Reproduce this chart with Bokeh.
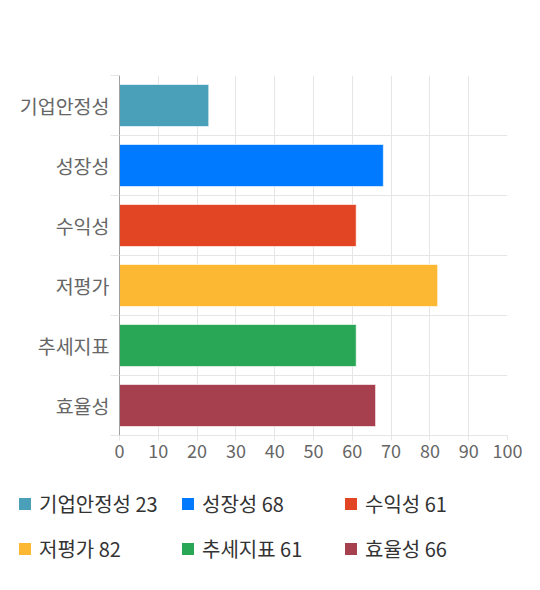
from bokeh.plotting import figure
from bokeh.models import FixedTicker, Range1d, Legend, LegendItem
from bokeh.layouts import column, row
from bokeh.embed import file_html
from bokeh.resources import INLINE

categories = ["기업안정성", "성장성", "수익성", "저평가", "추세지표", "효율성"]
values = [23, 68, 61, 82, 61, 66]
colors = ["#4aa0b8", "#007bff", "#e14523", "#fdb833", "#29a756", "#a7404e"]
x_ticks = [0, 10, 20, 30, 40, 50, 60, 70, 80, 90, 100]

FONT = "Noto Sans CJK KR"
W = 530

n = len(categories)
centers = [i + 0.5 for i in range(n)]

p = figure(width=W, height=470, output_backend="svg", toolbar_location=None,
           x_range=Range1d(0, 100), y_range=Range1d(n, 0),
           min_border_left=119, min_border_top=75, min_border_right=23,
           min_border_bottom=35)
p.outline_line_color = None

for i in range(n):
    p.hbar(y=[centers[i]], left=0, right=[values[i]], height=0.7,
           fill_color=colors[i], line_color="white", line_alpha=0.6, line_width=1)

# y axis (categories)
yax = p.yaxis[0]
yax.ticker = FixedTicker(ticks=centers, minor_ticks=list(range(n + 1)))
yax.major_label_overrides = {c: cat for c, cat in zip(centers, categories)}
yax.major_tick_line_color = None
yax.major_tick_out = 9
yax.major_tick_in = 0
yax.minor_tick_out = 9
yax.minor_tick_in = 0
yax.minor_tick_line_color = "#e6e6e6"
yax.axis_line_color = "#a0a0a0"
yax.major_label_standoff = 1
yax.major_label_text_font = FONT
yax.major_label_text_font_size = "19.5px"
yax.major_label_text_color = "#666666"

p.ygrid.grid_line_color = None
p.ygrid.minor_grid_line_color = "#e6e6e6"

# x axis (values)
xax = p.xaxis[0]
xax.ticker = FixedTicker(ticks=x_ticks)
xax.axis_line_color = "#e6e6e6"
xax.major_tick_line_color = "#e6e6e6"
xax.major_tick_out = 5
xax.major_tick_in = 0
xax.minor_tick_line_color = None
xax.major_label_standoff = 3
xax.major_label_text_font = FONT
xax.major_label_text_font_size = "18px"
xax.major_label_text_color = "#666666"
p.xgrid.grid_line_color = "#e6e6e6"

# legend figure
LH = 115
lf = figure(width=W, height=LH, output_backend="svg", toolbar_location=None,
            x_range=Range1d(0, 1), y_range=Range1d(0, 1),
            x_axis_type=None, y_axis_type=None, min_border=0)
lf.grid.visible = False
lf.outline_line_color = None

items = []
for c, v, col in zip(categories, values, colors):
    # swatch-only renderer, kept outside the visible range
    r = lf.quad(left=[5], right=[6], top=[5], bottom=[4], fill_color=col, line_color=None)
    items.append(LegendItem(label=f"{c} {v}", renderers=[r]))

legend = Legend(items=items, ncols=3, location=(17, LH - 16 - 80),
                orientation="horizontal",
                glyph_width=15, glyph_height=15, label_standoff=7,
                label_width=131, label_height=35, spacing=10,
                padding=0, margin=0, border_line_color=None,
                background_fill_alpha=0,
                label_text_font=FONT, label_text_font_size="20px",
                label_text_color="#333333")
lf.add_layout(legend, "center")

layout = column(p, row(lf), spacing=0)
open("out.html", "w").write(file_html(layout, INLINE))
